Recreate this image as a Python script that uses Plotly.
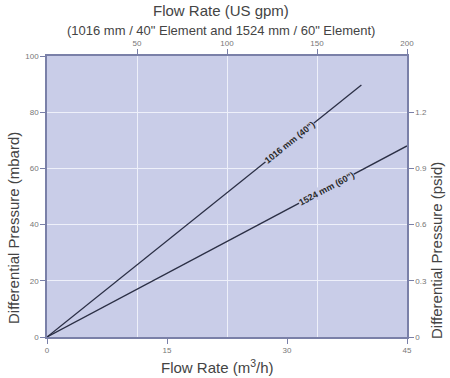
import plotly.graph_objects as go

# Data (m3/h vs mbar)
flow_1016 = [0, 39.3]
dp_1016 = [0, 89.7]
flow_1524 = [0, 45]
dp_1524 = [0, 68]

x_ticks = [0, 15, 30, 45]
gpm_ticks = [50, 100, 150, 200]
mbar_ticks = [0, 20, 40, 60, 80, 100]
psi_ticks = [0, 0.3, 0.6, 0.9, 1.2]
psi_labels = ["0", "0.3", "0.6", "0.9", "1.2"]

label_1016 = '1016 mm (40")'
label_1524 = '1524 mm (60")'

FONT = "Liberation Sans, Arial, sans-serif"
AX = "#7a80a8"
TICKC = "#777777"
LINEC = "#2b2f45"
BG = "#c9cde8"

OFF = 0  # body margin removed via post_script
W, H = 450 - OFF, 378 - OFF
L, R, T, B = 47 - OFF, 43, 56 - OFF, 41
PW, PH = W - L - R, H - T - B

def pp(px, py):
    """page pixel -> paper coords"""
    return (px - OFF - L) / PW, (H - B - (py - OFF)) / PH

fig = go.Figure()
fig.add_trace(go.Scatter(x=flow_1016, y=dp_1016, mode="lines",
                         line=dict(color=LINEC, width=1.3), showlegend=False))
fig.add_trace(go.Scatter(x=flow_1524, y=dp_1524, mode="lines",
                         line=dict(color=LINEC, width=1.3), showlegend=False))
fig.add_trace(go.Scatter(x=[0, 200], y=[None, None], xaxis="x2", yaxis="y",
                         mode="lines", showlegend=False, hoverinfo="skip"))
fig.add_trace(go.Scatter(x=[0, 45], y=[0, 1.5], xaxis="x", yaxis="y2",
                         mode="markers", marker=dict(opacity=0), showlegend=False, hoverinfo="skip"))

tf = dict(size=8, color=TICKC, family=FONT)
fig.update_layout(
    width=W, height=H,
    margin=dict(l=L, r=R, t=T, b=B, autoexpand=False),
    paper_bgcolor="white", plot_bgcolor=BG,
    font=dict(family=FONT, color="#444444"),
    xaxis=dict(range=[0, 45], tickvals=x_ticks, showgrid=False, zeroline=False,
               showline=True, linecolor=AX, linewidth=1.5, ticks="outside",
               ticklen=5, tickcolor=AX, tickfont=tf),
    xaxis2=dict(range=[0, 200], tickvals=gpm_ticks, overlaying="x", side="top",
                showgrid=True, gridcolor="#eef0fa", gridwidth=1.2, zeroline=False,
                showline=True, linecolor=AX, linewidth=1.5, ticks="outside",
                ticklen=5, tickcolor=AX, tickfont=tf),
    yaxis=dict(range=[0, 100], tickvals=mbar_ticks, showgrid=True, gridcolor="#eef0fa",
               gridwidth=1.2, zeroline=False, showline=True, linecolor=AX, linewidth=1.5,
               ticks="outside", ticklen=5, tickcolor=AX, tickfont=tf),
    yaxis2=dict(range=[0, 1.5], tickvals=psi_ticks, ticktext=psi_labels, overlaying="y",
                side="right", showgrid=False, zeroline=False, showline=True, linecolor=AX,
                linewidth=1.5, ticks="outside", ticklen=5, tickcolor=AX, tickfont=tf),
)

texts = [
    ("Flow Rate (US gpm)", 221, 11, 15, 0),
    ('(1016 mm / 40" Element and 1524 mm / 60" Element)', 221, 30, 13, 0),
    ("Flow Rate (m<sup>3</sup>/h)", 217, 366, 15, 0),
    ("Differential Pressure (mbard)", 13, 228, 15, -90),
    ("Differential Pressure (psid)", 436, 251, 15, -90),
]
for t, px, py, sz, ang in texts:
    x, y = pp(px, py)
    fig.add_annotation(text=t, x=x, y=y, xref="paper", yref="paper", showarrow=False,
                       xanchor="center", yanchor="middle", textangle=ang,
                       font=dict(size=sz, color="#444444", family=FONT))

# line labels
fig.add_annotation(text="<b>" + label_1016 + "</b>", x=30.25, y=69.2, xref="x", yref="y",
                   showarrow=False, textangle=-38.7, bgcolor=BG, borderpad=0,
                   font=dict(size=9, color="#2a2a2a", family=FONT))
fig.add_annotation(text="<b>" + label_1524 + "</b>", x=34.9, y=52.7, xref="x", yref="y",
                   showarrow=False, textangle=-27.9, bgcolor=BG, borderpad=0,
                   font=dict(size=9, color="#2a2a2a", family=FONT))

fig.write_html("out.html", config={"displayModeBar": False},
               post_script="document.body.style.margin='0';document.body.style.overflow='hidden';")
